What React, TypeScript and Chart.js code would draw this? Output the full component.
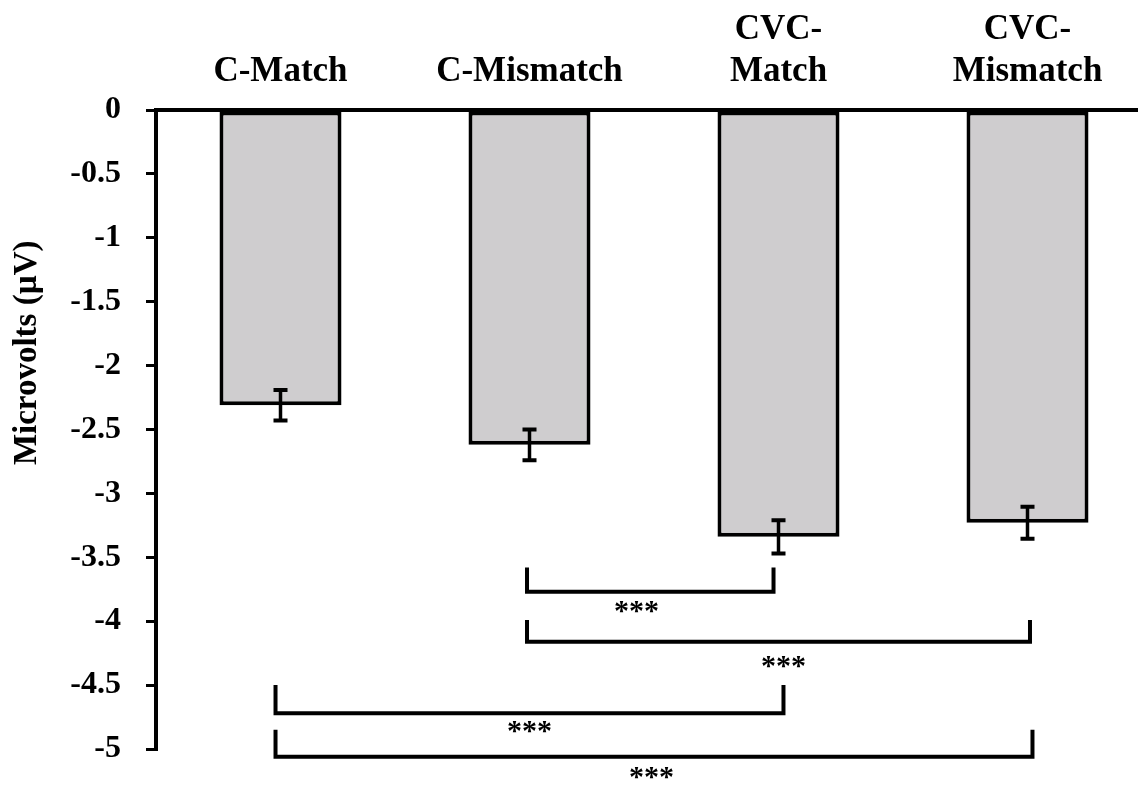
import React, { useEffect, useRef } from 'react';
import { Chart, registerables } from 'chart.js';

Chart.register(...registerables);

// ---- data ----
const categories: string[][] = [['C-Match'], ['C-Mismatch'], ['CVC-', 'Match'], ['CVC-', 'Mismatch']];
const means: number[] = [-2.31, -2.62, -3.34, -3.23];
const errors: number[] = [0.12, 0.12, 0.13, 0.125];
const yMin = -5;
const yMax = 0;
const yStep = 0.5;
const yTitle = 'Microvolts (µV)';

// significance brackets (category index units / microvolt units)
const bracketFrom: number[] = [0.99, 0.99, -0.02, -0.02];
const bracketTo: number[] = [1.98, 3.01, 2.02, 3.02];
const bracketLevel: number[] = [-3.77, -4.16, -4.72, -5.06];
const bracketArmTop: number[] = [-3.58, -3.99, -4.5, -4.85];
const starX: number[] = [1.43, 2.02, 1.0, 1.49];
const starY: number[] = [-3.89, -4.32, -4.83, -5.19];
const starLabels: string[] = ['***', '***', '***', '***'];

const FONT = '"Liberation Serif", "Times New Roman", serif';

const overlayPlugin = {
  id: 'overlay',
  afterDatasetsDraw(chart: any) {
    const ctx = chart.ctx;
    const xs = chart.scales.x;
    const ys = chart.scales.y;
    ctx.save();
    ctx.strokeStyle = '#000';
    ctx.fillStyle = '#000';
    // error bars
    const cap = 7;
    means.forEach((m, i) => {
      const x = xs.getPixelForValue(i);
      const yTop = ys.getPixelForValue(m + errors[i]);
      const yBot = ys.getPixelForValue(m - errors[i]);
      ctx.lineWidth = 3.5;
      ctx.beginPath();
      ctx.moveTo(x, yTop);
      ctx.lineTo(x, yBot);
      ctx.stroke();
      ctx.lineWidth = 4;
      ctx.beginPath();
      ctx.moveTo(x - cap, yTop);
      ctx.lineTo(x + cap, yTop);
      ctx.moveTo(x - cap, yBot);
      ctx.lineTo(x + cap, yBot);
      ctx.stroke();
    });
    // brackets
    ctx.lineWidth = 4;
    ctx.lineJoin = 'miter';
    bracketFrom.forEach((f, i) => {
      const x1 = xs.getPixelForValue(f);
      const x2 = xs.getPixelForValue(bracketTo[i]);
      const yl = ys.getPixelForValue(bracketLevel[i]);
      const yt = ys.getPixelForValue(bracketArmTop[i]);
      ctx.beginPath();
      ctx.moveTo(x1, yt);
      ctx.lineTo(x1, yl);
      ctx.lineTo(x2, yl);
      ctx.lineTo(x2, yt);
      ctx.stroke();
    });
    // stars
    const starSize = 30;
    ctx.font = `bold ${starSize}px ${FONT}`;
    ctx.textAlign = 'center';
    ctx.textBaseline = 'alphabetic';
    starLabels.forEach((s, i) => {
      const x = xs.getPixelForValue(starX[i]);
      const y = ys.getPixelForValue(starY[i]);
      ctx.fillText(s, x, y + 0.44 * starSize);
    });
    ctx.restore();
  },
  afterDraw(chart: any) {
    const ctx = chart.ctx;
    const ys = chart.scales.y;
    ctx.save();
    ctx.fillStyle = '#000';
    ctx.font = `bold 33px ${FONT}`;
    ctx.textAlign = 'center';
    ctx.textBaseline = 'alphabetic';
    ctx.translate(36, ys.getPixelForValue(-1.9));
    ctx.rotate(-Math.PI / 2);
    ctx.fillText(yTitle, 0, 0);
    ctx.restore();
  },
};

export default function App() {
  const canvasRef = useRef<HTMLCanvasElement | null>(null);

  useEffect(() => {
    const canvas = canvasRef.current;
    if (!canvas) return;
    const chart = new Chart(canvas, {
      type: 'bar',
      data: {
        labels: categories as any,
        datasets: [
          {
            data: means,
            backgroundColor: '#cfcdcf',
            borderColor: '#000',
            borderWidth: 4,
            borderSkipped: false,
            barPercentage: 0.49,
            categoryPercentage: 1.0,
          },
        ],
      },
      options: {
        responsive: false,
        animation: false,
        devicePixelRatio: 1,
        layout: { padding: { left: 0, top: 0, right: 8, bottom: 36 } },
        plugins: {
          legend: { display: false },
          tooltip: { enabled: false },
        },
        scales: {
          x: {
            type: 'category',
            position: 'top',
            offset: true,
            grid: { display: false, drawTicks: false },
            border: { display: true, color: '#000', width: 4 },
            ticks: {
              color: '#000',
              padding: 17,
              maxRotation: 0,
              autoSkip: false,
              font: { family: FONT, size: 35, weight: 'bold', lineHeight: 1.2 },
            },
            afterFit: (scale: any) => {
              scale.height = 110;
            },
          },
          y: {
            type: 'linear',
            min: yMin,
            max: yMax,
            grid: {
              drawOnChartArea: false,
              drawTicks: true,
              tickLength: 10,
              color: '#000',
              lineWidth: 3,
            },
            border: { display: true, color: '#000', width: 4 },
            ticks: {
              stepSize: yStep,
              color: '#000',
              padding: 25,
              font: { family: FONT, size: 32, weight: 'bold' },
              callback: (v: any) => String(Number(v)),
            },
            afterFit: (scale: any) => {
              scale.width = 156;
              scale.paddingTop = 0;
              scale.paddingBottom = 0;
            },
          },
        },
      },
      plugins: [overlayPlugin],
    });
    return () => chart.destroy();
  }, []);

  return (
    <div
      style={{
        position: 'absolute',
        left: 0,
        top: 0,
        width: 1138,
        height: 785,
        overflow: 'hidden',
        background: '#fff',
      }}
    >
      <canvas ref={canvasRef} width={1160} height={785} style={{ display: 'block' }} />
    </div>
  );
}
